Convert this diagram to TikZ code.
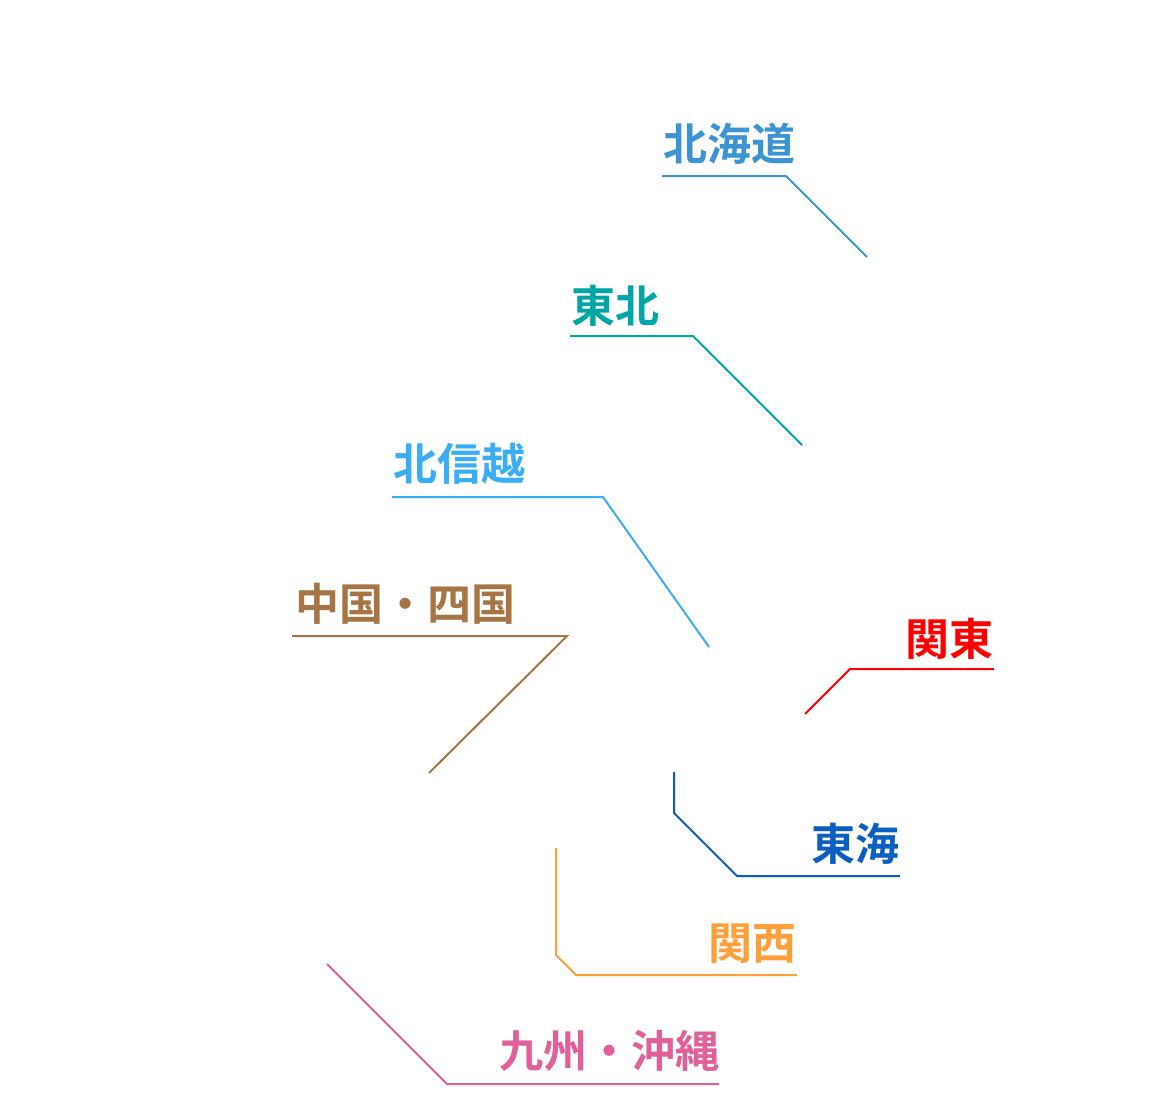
\documentclass[tikz,border=0pt]{standalone}
\usepackage{fontspec}
\newfontfamily\jp{Noto Sans CJK JP}[BoldFont={* Bold}]
\definecolor{cHkd}{HTML}{3C94D2}
\definecolor{cThk}{HTML}{00A5A5}
\definecolor{cHsk}{HTML}{3AAEF5}
\definecolor{cCsk}{HTML}{A57545}
\definecolor{cKnt}{HTML}{FF0000}
\definecolor{cTkai}{HTML}{0A5FC0}
\definecolor{cKns}{HTML}{FF9F3A}
\definecolor{cKyu}{HTML}{E0609A}
\tikzset{
  lbl/.style={inner sep=0pt, font=\jp\bfseries\fontsize{44}{44}\selectfont},
  leader/.style={line width=2pt, line join=miter}
}
\begin{document}
\begin{tikzpicture}[x=1pt,y=-1pt]
\useasboundingbox (0,0) rectangle (1150,1100);
% Hokkaido
\node[lbl, text=cHkd, anchor=south west] (hkd) at (663,165) {北海道};
\coordinate (hkd1) at (662,176); \coordinate (hkd2) at (786,176); \coordinate (hkd3) at (867,257);
\draw[leader, cHkd] (hkd1) -- (hkd2) -- (hkd3);
% Tohoku
\node[lbl, text=cThk, anchor=south west] (thk) at (571,327) {東北};
\coordinate (thk1) at (570,336); \coordinate (thk2) at (693,336); \coordinate (thk3) at (802,445);
\draw[leader, cThk] (thk1) -- (thk2) -- (thk3);
% Hokushinetsu
\node[lbl, text=cHsk, anchor=south west] (hsk) at (393,485) {北信越};
\coordinate (hsk1) at (392,497); \coordinate (hsk2) at (603,497); \coordinate (hsk3) at (709,647);
\draw[leader, cHsk] (hsk1) -- (hsk2) -- (hsk3);
% Chugoku Shikoku
\node[lbl, text=cCsk, anchor=south west] (csk) at (295,625) {中国・四国};
\coordinate (csk1) at (292,636); \coordinate (csk2) at (567,636); \coordinate (csk3) at (429,773);
\draw[leader, cCsk] (csk1) -- (csk2) -- (csk3);
% Kanto
\node[lbl, text=cKnt, anchor=south east] (knt) at (994,660) {関東};
\coordinate (knt1) at (994,669); \coordinate (knt2) at (850,669); \coordinate (knt3) at (805,714);
\draw[leader, cKnt] (knt1) -- (knt2) -- (knt3);
% Tokai
\node[lbl, text=cTkai, anchor=south east] (tkai) at (900,865) {東海};
\coordinate (tkai1) at (674,772); \coordinate (tkai2) at (674,813); \coordinate (tkai3) at (737,876); \coordinate (tkai4) at (900,876);
\draw[leader, cTkai] (tkai1) -- (tkai2) -- (tkai3) -- (tkai4);
% Kansai
\node[lbl, text=cKns, anchor=south east] (kns) at (797,964) {関西};
\coordinate (kns1) at (556,848); \coordinate (kns2) at (556,955); \coordinate (kns3) at (576,975); \coordinate (kns4) at (797,975);
\draw[leader, cKns] (kns1) -- (kns2) -- (kns3) -- (kns4);
% Kyushu Okinawa
\node[lbl, text=cKyu, anchor=south east] (kyu) at (720,1072) {九州・沖縄};
\coordinate (kyu1) at (327,964); \coordinate (kyu2) at (447,1084); \coordinate (kyu3) at (719,1084);
\draw[leader, cKyu] (kyu1) -- (kyu2) -- (kyu3);
\end{tikzpicture}
\end{document}
